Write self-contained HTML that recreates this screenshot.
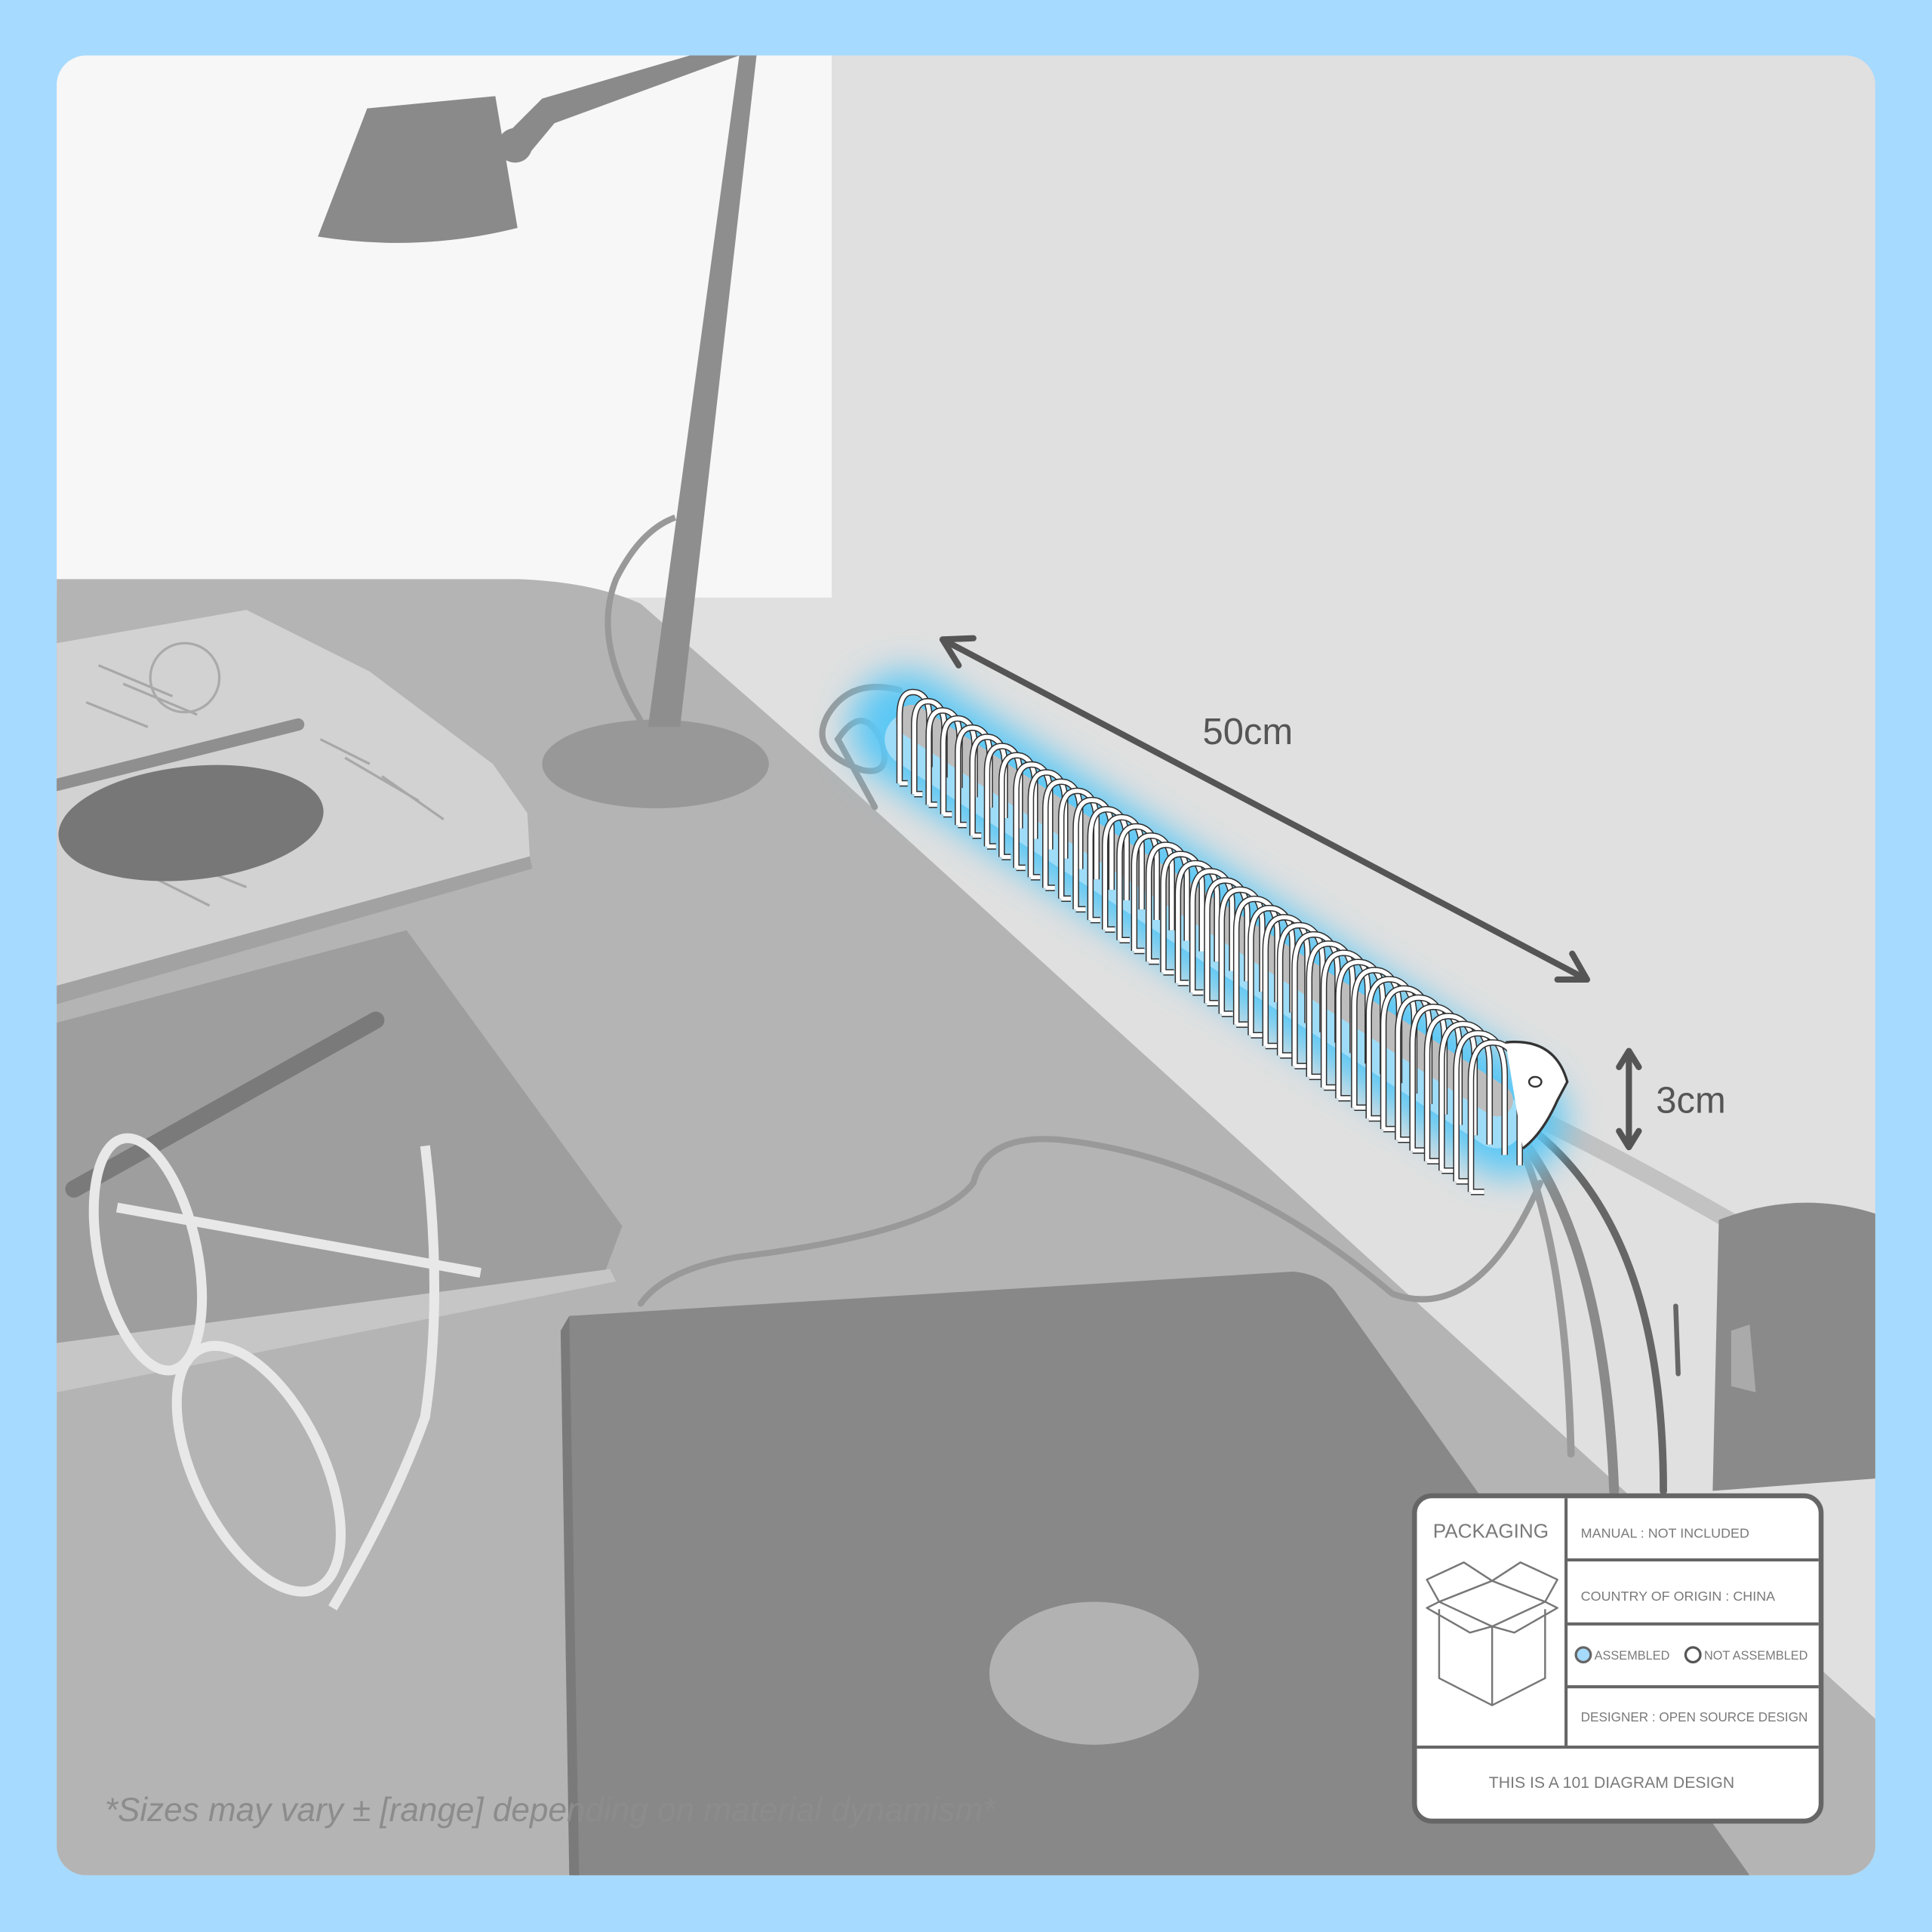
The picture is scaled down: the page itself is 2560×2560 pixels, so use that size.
<!DOCTYPE html>
<html><head><style>html,body{margin:0;padding:0;background:#a6daff}svg{display:block}</style></head>
<body>
<svg width="2560" height="2560" viewBox="0 0 1568 1568" xmlns="http://www.w3.org/2000/svg" xmlns:xlink="http://www.w3.org/1999/xlink">
<defs>
<clipPath id="panel"><rect x="46" y="45" width="1476" height="1477" rx="24"/></clipPath>
<filter id="blur" x="-20%" y="-50%" width="140%" height="200%"><feGaussianBlur stdDeviation="14"/></filter>
<g id="rib" fill="none">
<path d="M-9 38 L-9 -12 Q-9 -32 4 -29 Q13 -26 13 -10 L13 26 M-9 38 L-3 38" stroke="#2e2e2e" stroke-width="8.5" vector-effect="non-scaling-stroke"/>
<path d="M-9 38 L-9 -12 Q-9 -32 4 -29 Q13 -26 13 -10 L13 26 M-9 38 L-3 38" stroke="#ffffff" stroke-width="5.5" vector-effect="non-scaling-stroke"/>
</g>
</defs>
<rect width="1568" height="1568" fill="#a6daff"/>
<g clip-path="url(#panel)">
<rect x="46" y="45" width="1476" height="1477" fill="#e0e0e0"/>
<rect x="46" y="45" width="629" height="440" fill="#f7f7f7"/>
<path d="M46 470 L420 470 Q480 472 520 490 L680 630 L1522 1395 L1522 1522 L46 1522 Z" fill="#b4b4b4"/>
<ellipse cx="532" cy="620" rx="92" ry="36" fill="#989898"/>
<path d="M600 45 L614 45 L552 590 L526 590 Z" fill="#8e8e8e"/>
<path d="M520 585 Q480 520 500 470 Q520 430 548 420" fill="none" stroke="#999" stroke-width="5"/>
<path d="M298 88 L402 78 L420 185 Q340 205 258 192 Z" fill="#8a8a8a"/>
<path d="M410 110 L440 80 L560 45 L600 45 L450 100 L425 130 Z" fill="#8a8a8a"/>
<circle cx="418" cy="118" r="14" fill="#8a8a8a"/>
<path d="M46 522 L200 495 L300 545 L400 620 L428 660 L430 695 L46 800 Z" fill="#d2d2d2"/>
<path d="M46 800 L430 695 L432 705 L46 815 Z" fill="#a2a2a2"/>
<g stroke="#a8a8a8" stroke-width="2">
<line x1="80" y1="540" x2="140" y2="565"/><line x1="100" y1="555" x2="160" y2="580"/><line x1="70" y1="570" x2="120" y2="590"/>
<line x1="260" y1="600" x2="300" y2="620"/><line x1="280" y1="615" x2="340" y2="650"/><line x1="310" y1="630" x2="360" y2="665"/>
<line x1="120" y1="710" x2="170" y2="735"/><line x1="150" y1="700" x2="200" y2="720"/>
</g>
<circle cx="150" cy="550" r="28" fill="none" stroke="#aaa" stroke-width="2"/>
<line x1="46" y1="637" x2="242" y2="588" stroke="#8f8f8f" stroke-width="10" stroke-linecap="round"/>
<ellipse cx="155" cy="668" rx="108" ry="46" fill="#777" transform="rotate(-6 155 668)"/>
<path d="M46 830 L330 755 L505 995 L490 1035 L46 1090 Z" fill="#9e9e9e"/>
<path d="M46 1090 L495 1030 L500 1040 L46 1130 Z" fill="#c6c6c6"/>
<line x1="60" y1="965" x2="305" y2="828" stroke="#7a7a7a" stroke-width="14" stroke-linecap="round"/>
<g fill="none" stroke="#e8e8e8" stroke-width="8">
<ellipse cx="120" cy="1018" rx="40" ry="96" transform="rotate(-12 120 1018)"/>
<ellipse cx="210" cy="1192" rx="52" ry="108" transform="rotate(-26 210 1192)"/>
<path d="M95 980 L390 1033"/>
<path d="M345 930 Q360 1050 345 1150 Q320 1220 270 1305"/>
</g>
<path d="M462 1068 L1050 1032 Q1075 1035 1085 1050 L1420 1522 L465 1522 Z" fill="#888"/>
<path d="M462 1068 L455 1080 L462 1522 L470 1522 Z" fill="#7a7a7a"/>
<ellipse cx="888" cy="1358" rx="85" ry="58" fill="#b2b2b2"/>
<g fill="none" stroke-linecap="round">
<path d="M520 1058 Q540 1030 600 1020 Q760 1000 790 960 Q800 920 860 925 Q1000 940 1130 1050 Q1200 1075 1250 960" stroke="#999" stroke-width="5"/>
<path d="M1190 880 Q1300 930 1420 1000" stroke="#c2c2c2" stroke-width="14"/>
<path d="M1200 890 Q1350 960 1350 1210" stroke="#666" stroke-width="6"/>
<path d="M1195 885 Q1300 960 1310 1210" stroke="#8a8a8a" stroke-width="8"/>
<path d="M1205 880 Q1270 960 1275 1180" stroke="#9a9a9a" stroke-width="6"/>
<path d="M1360 1060 L1362 1115" stroke="#666" stroke-width="4"/>
<path d="M730 560 Q690 550 672 580 Q655 610 700 625 Q725 630 715 600 Q700 570 680 600 L710 655" stroke="#999" stroke-width="5"/>
</g>
<path d="M1395 990 Q1460 965 1522 985 L1522 1200 L1390 1210 Z" fill="#8a8a8a"/>
<path d="M1405 1080 L1420 1075 L1425 1130 L1405 1125 Z" fill="#aaa"/>
<line x1="735" y1="590" x2="1225" y2="910" stroke="#5cc8f5" stroke-width="90" stroke-linecap="round" filter="url(#blur)"/>
<line x1="740" y1="600" x2="1215" y2="910" stroke="#9fdcf7" stroke-width="44" stroke-linecap="round"/>
<line x1="740" y1="585" x2="1215" y2="893" stroke="#bdbdbd" stroke-width="26" stroke-linecap="round"/>
<use href="#rib" xlink:href="#rib" transform="translate(740 594) scale(1.1)"/>
<use href="#rib" xlink:href="#rib" transform="translate(752 602) scale(1.118)"/>
<use href="#rib" xlink:href="#rib" transform="translate(764 610) scale(1.136)"/>
<use href="#rib" xlink:href="#rib" transform="translate(776 617) scale(1.154)"/>
<use href="#rib" xlink:href="#rib" transform="translate(788 625) scale(1.172)"/>
<use href="#rib" xlink:href="#rib" transform="translate(800 633) scale(1.19)"/>
<use href="#rib" xlink:href="#rib" transform="translate(812 641) scale(1.208)"/>
<use href="#rib" xlink:href="#rib" transform="translate(824 649) scale(1.226)"/>
<use href="#rib" xlink:href="#rib" transform="translate(836 657) scale(1.244)"/>
<use href="#rib" xlink:href="#rib" transform="translate(848 664) scale(1.262)"/>
<use href="#rib" xlink:href="#rib" transform="translate(860 672) scale(1.28)"/>
<use href="#rib" xlink:href="#rib" transform="translate(873 680) scale(1.298)"/>
<use href="#rib" xlink:href="#rib" transform="translate(885 688) scale(1.316)"/>
<use href="#rib" xlink:href="#rib" transform="translate(897 696) scale(1.334)"/>
<use href="#rib" xlink:href="#rib" transform="translate(909 703) scale(1.352)"/>
<use href="#rib" xlink:href="#rib" transform="translate(921 711) scale(1.37)"/>
<use href="#rib" xlink:href="#rib" transform="translate(933 719) scale(1.388)"/>
<use href="#rib" xlink:href="#rib" transform="translate(945 727) scale(1.406)"/>
<use href="#rib" xlink:href="#rib" transform="translate(957 735) scale(1.424)"/>
<use href="#rib" xlink:href="#rib" transform="translate(969 743) scale(1.442)"/>
<use href="#rib" xlink:href="#rib" transform="translate(981 750) scale(1.46)"/>
<use href="#rib" xlink:href="#rib" transform="translate(993 758) scale(1.478)"/>
<use href="#rib" xlink:href="#rib" transform="translate(1005 766) scale(1.496)"/>
<use href="#rib" xlink:href="#rib" transform="translate(1017 774) scale(1.514)"/>
<use href="#rib" xlink:href="#rib" transform="translate(1029 782) scale(1.532)"/>
<use href="#rib" xlink:href="#rib" transform="translate(1041 790) scale(1.55)"/>
<use href="#rib" xlink:href="#rib" transform="translate(1053 797) scale(1.568)"/>
<use href="#rib" xlink:href="#rib" transform="translate(1065 805) scale(1.586)"/>
<use href="#rib" xlink:href="#rib" transform="translate(1077 813) scale(1.604)"/>
<use href="#rib" xlink:href="#rib" transform="translate(1089 821) scale(1.622)"/>
<use href="#rib" xlink:href="#rib" transform="translate(1101 829) scale(1.64)"/>
<use href="#rib" xlink:href="#rib" transform="translate(1114 836) scale(1.658)"/>
<use href="#rib" xlink:href="#rib" transform="translate(1126 844) scale(1.676)"/>
<use href="#rib" xlink:href="#rib" transform="translate(1138 852) scale(1.694)"/>
<use href="#rib" xlink:href="#rib" transform="translate(1150 860) scale(1.712)"/>
<use href="#rib" xlink:href="#rib" transform="translate(1162 868) scale(1.73)"/>
<use href="#rib" xlink:href="#rib" transform="translate(1174 876) scale(1.748)"/>
<use href="#rib" xlink:href="#rib" transform="translate(1186 883) scale(1.766)"/>
<use href="#rib" xlink:href="#rib" transform="translate(1198 891) scale(1.784)"/>
<use href="#rib" xlink:href="#rib" transform="translate(1210 899) scale(1.8)"/>
<path d="M1222 846 Q1262 842 1272 878 L1264 893 Q1252 920 1236 932" fill="#fff" stroke="#333" stroke-width="2"/>
<ellipse cx="1246" cy="878" rx="5" ry="4" fill="none" stroke="#333" stroke-width="1.5"/>
<g stroke="#555" stroke-width="5" fill="none" stroke-linecap="round" stroke-linejoin="round">
<line x1="765" y1="519" x2="1288" y2="795"/>
<polyline points="790,518 765,519 778,540"/>
<polyline points="1264,795 1288,795 1276,774"/>
<line x1="1322" y1="856" x2="1322" y2="928"/>
<polyline points="1314,866 1322,853 1330,866"/>
<polyline points="1314,918 1322,931 1330,918"/>
</g>
<text x="976" y="604" font-family="Liberation Sans, sans-serif" font-size="30" fill="#555">50cm</text>
<text x="1344" y="903" font-family="Liberation Sans, sans-serif" font-size="30" fill="#555">3cm</text>
<text x="85" y="1478" font-family="Liberation Sans, sans-serif" font-size="27" font-style="italic" fill="#8c8c8c">*Sizes may vary ± [range] depending on material dynamism*</text>
<rect x="1148" y="1214" width="330" height="264" rx="14" fill="#fff" stroke="#666" stroke-width="4"/>
<g stroke="#666" stroke-width="2.5">
<line x1="1271" y1="1216" x2="1271" y2="1418"/>
<line x1="1150" y1="1418" x2="1476" y2="1418"/>
<line x1="1271" y1="1266" x2="1476" y2="1266"/>
<line x1="1271" y1="1318" x2="1476" y2="1318"/>
<line x1="1271" y1="1369" x2="1476" y2="1369"/>
</g>
<g font-family="Liberation Sans, sans-serif" fill="#7a7a7a">
<text x="1163" y="1248" font-size="16">PACKAGING</text>
<text x="1283" y="1248" font-size="11">MANUAL :  NOT INCLUDED</text>
<text x="1283" y="1299" font-size="11">COUNTRY OF ORIGIN :  CHINA</text>
<text x="1294" y="1347" font-size="10">ASSEMBLED</text>
<text x="1383" y="1347" font-size="10">NOT ASSEMBLED</text>
<text x="1283" y="1397" font-size="10.5">DESIGNER :  OPEN SOURCE DESIGN</text>
<text x="1308" y="1451" font-size="13" text-anchor="middle">THIS IS A 101 DIAGRAM DESIGN</text>
</g>
<circle cx="1285" cy="1343" r="6" fill="#a6daff" stroke="#666" stroke-width="2"/>
<circle cx="1374" cy="1343" r="6" fill="none" stroke="#555" stroke-width="2"/>
<g fill="none" stroke="#777" stroke-width="1.5" stroke-linejoin="round">
<path d="M1168 1300 L1211 1283 L1254 1300 L1211 1320 Z"/>
<path d="M1168 1300 L1158 1305 L1193 1325 L1211 1320"/>
<path d="M1254 1300 L1264 1305 L1229 1325 L1211 1320"/>
<path d="M1211 1283 L1188 1268 L1158 1282 L1168 1300"/>
<path d="M1211 1283 L1234 1268 L1264 1282 L1254 1300"/>
<path d="M1168 1306 L1168 1362 L1211 1384 L1254 1362 L1254 1306"/>
<line x1="1211" y1="1320" x2="1211" y2="1384"/>
</g>
</g>
</svg>
</body></html>
